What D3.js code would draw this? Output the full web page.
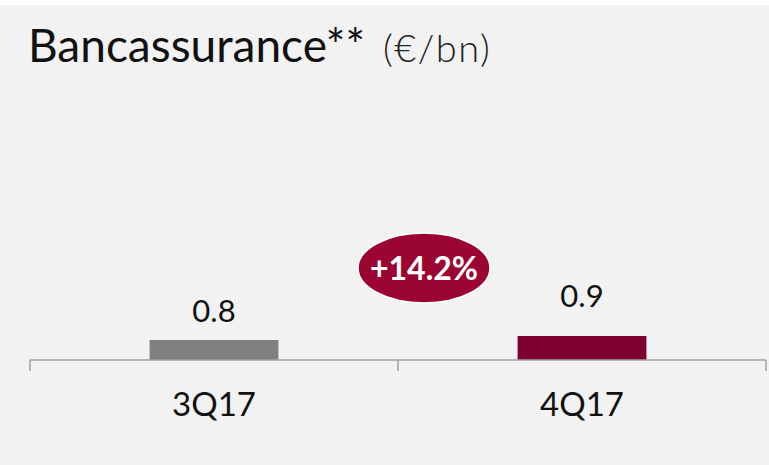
<!DOCTYPE html>
<html>
<head>
<meta charset="utf-8">
<script src="https://cdn.jsdelivr.net/npm/d3@7"></script>
<style>
  body { margin: 0; background: #fff; }
  svg { display: block; font-family: Lato, "Open Sans", sans-serif; }
</style>
</head>
<body>
<div id="chart"></div>
<script>
        // Chart data
        const categories = ["3Q17", "4Q17"];
        const values = [0.8, 0.9];
        const valueLabels = ["0.8", "0.9"];
        const barColors = ["#808080", "#7d0030"];
        const changeLabel = "+14.2%";

        const width = 769, height = 465;
        const margin = {top: 5, left: 30, right: 3, baseline: 360};

        const svg = d3.select("#chart")
            .append("svg")
            .attr("width", width)
            .attr("height", height);

        // Background panel
        svg.append("rect")
            .attr("x", 0).attr("y", margin.top)
            .attr("width", width).attr("height", height - margin.top)
            .attr("fill", "#f2f2f2");

        // Title
        const title = svg.append("text").attr("x", 28).attr("y", 62);
        title.append("tspan").attr("font-size", 46).attr("fill", "#111").text("Bancassurance**");
        title.append("tspan").attr("dx", 18).attr("font-size", 38).attr("font-weight", 300)
            .attr("letter-spacing", 1.5).attr("fill", "#222").text("(€/bn)");

        // Scales
        const xScale = d3.scaleBand().domain(categories).range([margin.left, width - margin.right]);
        const yScale = d3.scaleLinear().domain([0.3, 3.3]).range([margin.baseline, margin.baseline - 120]);
        const labelY = d3.scaleLinear().domain([0.8, 0.9]).range([322, 307]);

        const barW = xScale.bandwidth() * 0.35;

        // Bars
        svg.selectAll(".bar")
            .data(values)
            .enter()
            .append("rect")
            .attr("class", "bar")
            .attr("x", (d, i) => xScale(categories[i]) + (xScale.bandwidth() - barW) / 2)
            .attr("y", d => yScale(d))
            .attr("width", barW)
            .attr("height", d => margin.baseline - yScale(d))
            .attr("fill", (d, i) => barColors[i]);

        // Value labels
        svg.selectAll(".val")
            .data(values)
            .enter()
            .append("text")
            .attr("class", "val")
            .attr("x", (d, i) => xScale(categories[i]) + xScale.bandwidth() / 2)
            .attr("y", d => labelY(d))
            .attr("text-anchor", "middle")
            .attr("font-size", 31)
            .attr("fill", "#111")
            .text((d, i) => valueLabels[i]);

        // Axis: labels centred, ticks at the band edges
        const axis = svg.append("g")
            .attr("transform", `translate(0,${margin.baseline})`)
            .call(d3.axisBottom(xScale).tickSize(0).tickPadding(33));
        axis.select(".domain").remove();
        axis.selectAll("text").attr("font-size", 33).attr("fill", "#111").attr("font-family", "Lato, sans-serif");

        const edges = categories.map(c => xScale(c)).concat([xScale.range()[1]]);
        svg.append("line")
            .attr("x1", edges[0]).attr("x2", edges[edges.length - 1])
            .attr("y1", margin.baseline).attr("y2", margin.baseline)
            .attr("stroke", "#a0a0a0").attr("stroke-width", 1.5);
        svg.selectAll(".edge")
            .data(edges)
            .enter()
            .append("line")
            .attr("class", "edge")
            .attr("x1", d => d).attr("x2", d => d)
            .attr("y1", margin.baseline).attr("y2", margin.baseline + 11)
            .attr("stroke", "#a0a0a0").attr("stroke-width", 1.5);

        // Change badge between the bars
        const bx = xScale(categories[1]) + 26, by = 268;
        svg.append("ellipse")
            .attr("cx", bx).attr("cy", by)
            .attr("rx", 66).attr("ry", 35)
            .attr("fill", "#9b0532")
            .attr("stroke", "#fff").attr("stroke-width", 1.5);
        svg.append("text")
            .attr("x", bx).attr("y", by + 12)
            .attr("text-anchor", "middle")
            .attr("font-size", 32).attr("font-weight", 700)
            .attr("fill", "#fff")
            .text(changeLabel);
</script>
</body>
</html>
